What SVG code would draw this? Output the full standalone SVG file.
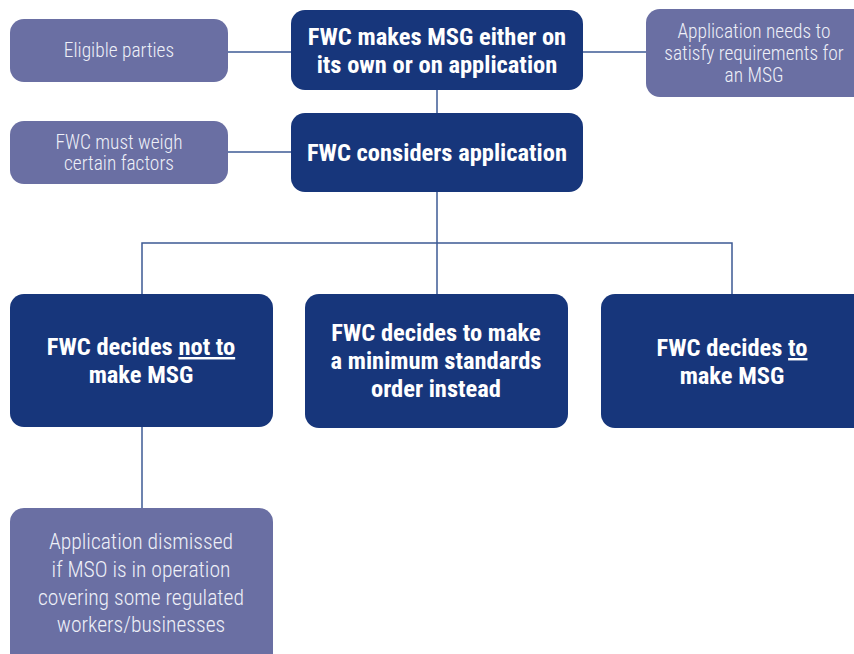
<svg xmlns="http://www.w3.org/2000/svg" width="854" height="654" viewBox="0 0 854 654">
<style>
.dark{fill:#17367b}
.light{fill:#6a6fa3}
.bt{font-family:"Roboto Condensed","Liberation Sans Narrow","Liberation Sans",sans-serif;font-weight:bold;fill:#ffffff;text-anchor:middle;font-size:24.5px}
.lt{font-family:"Roboto Condensed","Liberation Sans Narrow","Liberation Sans",sans-serif;font-weight:300;fill:#eef0f8;text-anchor:middle;font-size:19.4px}
.big{font-size:21.6px}
.conn{stroke:#3d5a94;stroke-width:1.5;fill:none}
</style>
<rect width="854" height="654" fill="#ffffff"/>
<g id="connectors">
<line class="conn" x1="228" y1="52" x2="291" y2="52"/>
<line class="conn" x1="583" y1="52" x2="646" y2="52"/>
<line class="conn" x1="437" y1="90" x2="437" y2="113"/>
<line class="conn" x1="228" y1="152" x2="291" y2="152"/>
<polyline class="conn" points="437,192 437,243"/>
<polyline class="conn" points="142,294 142,243 732,243 732,294"/>
<line class="conn" x1="437" y1="243" x2="437" y2="294"/>
<line class="conn" x1="142" y1="427" x2="142" y2="508"/>
</g>
<g id="eligible">
<rect class="light" x="10" y="19" width="218" height="63" rx="14"/>
<text class="lt" x="119" y="57">Eligible parties</text>
</g>
<g id="fwc-makes">
<rect class="dark" x="291" y="10" width="292" height="80" rx="14"/>
<text class="bt" x="437" y="45">FWC makes MSG either on</text>
<text class="bt" x="437" y="73">its own or on application</text>
</g>
<g id="requirements">
<rect class="light" x="646" y="9" width="230" height="88" rx="14"/>
<text class="lt" x="754" y="38">Application needs to</text>
<text class="lt" x="754" y="60">satisfy requirements for</text>
<text class="lt" x="754" y="82">an MSG</text>
</g>
<g id="weigh">
<rect class="light" x="10" y="121" width="218" height="63" rx="14"/>
<text class="lt" x="119" y="149">FWC must weigh</text>
<text class="lt" x="119" y="170">certain factors</text>
</g>
<g id="considers">
<rect class="dark" x="291" y="113" width="292" height="79" rx="14"/>
<text class="bt" x="437" y="161">FWC considers application</text>
</g>
<g id="not-to">
<rect class="dark" x="10" y="294" width="263" height="133" rx="14"/>
<text class="bt" x="141" y="355">FWC decides <tspan text-decoration="underline">not to</tspan></text>
<text class="bt" x="141" y="383">make MSG</text>
</g>
<g id="mso">
<rect class="dark" x="305" y="294" width="263" height="134" rx="14"/>
<text class="bt" x="436" y="341">FWC decides to make</text>
<text class="bt" x="436" y="369">a minimum standards</text>
<text class="bt" x="436" y="397">order instead</text>
</g>
<g id="to">
<rect class="dark" x="601" y="294" width="280" height="134" rx="14"/>
<text class="bt" x="732" y="356">FWC decides <tspan text-decoration="underline">to</tspan></text>
<text class="bt" x="732" y="384">make MSG</text>
</g>
<g id="dismissed">
<rect class="light" x="10" y="508" width="263" height="170" rx="14"/>
<text class="lt big" x="141" y="549">Application dismissed</text>
<text class="lt big" x="141" y="577">if MSO is in operation</text>
<text class="lt big" x="141" y="605">covering some regulated</text>
<text class="lt big" x="141" y="632">workers/businesses</text>
</g>
</svg>
